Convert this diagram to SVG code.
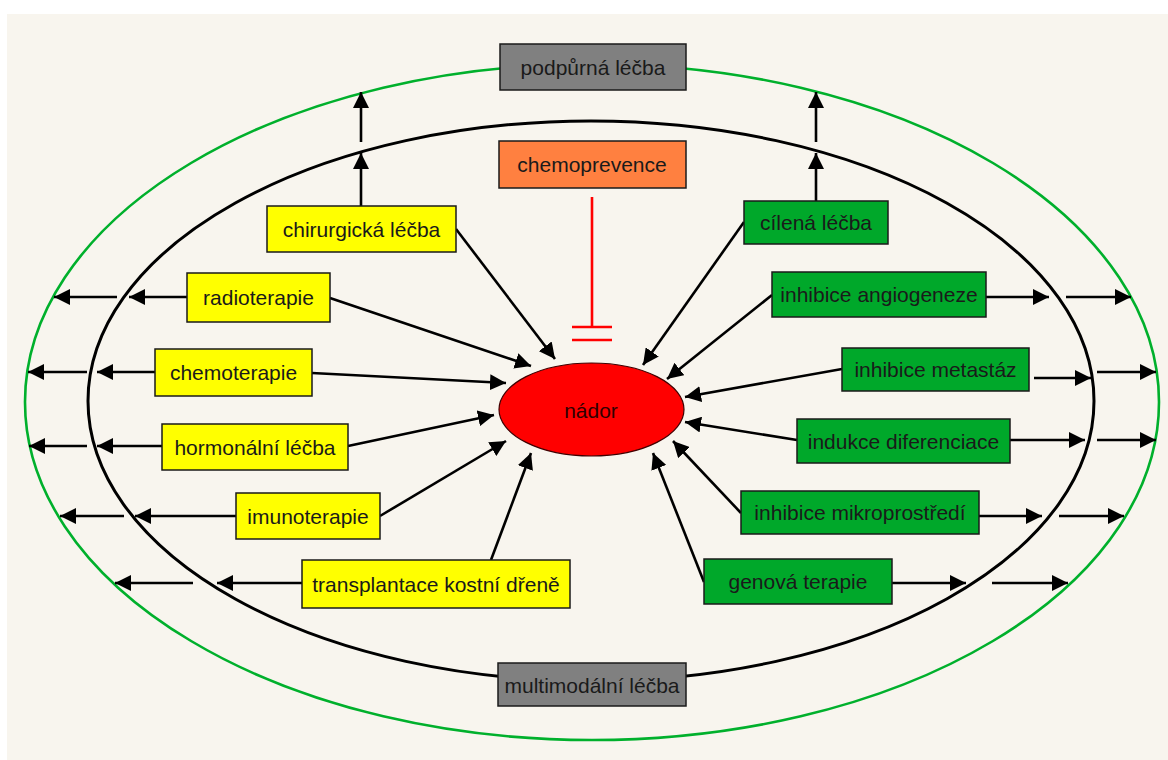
<svg xmlns="http://www.w3.org/2000/svg" width="1168" height="760" viewBox="0 0 1168 760">
<style>
.box{stroke:#1a1a1a;stroke-width:1.5}
.y{fill:#ffff00}
.g{fill:#00a82a}
.gr{fill:#808080}
.o{fill:#ff8040}
.t{font-family:"Liberation Sans",Arial,sans-serif;font-size:21px;fill:#1a1a1a;text-anchor:middle;dominant-baseline:central}
.c{stroke:#000;stroke-width:2.6;fill:none;marker-end:url(#ah)}
</style>
<defs>
<marker id="ah" markerUnits="userSpaceOnUse" markerWidth="17" markerHeight="16" refX="16" refY="8" orient="auto">
<path d="M0,0 L16,8 L0,16 z" fill="#000"/>
</marker>
</defs>
<rect x="0" y="0" width="1168" height="760" fill="#ffffff"/>
<rect x="7" y="14" width="1161" height="746" fill="#f8f5ee"/>
<g id="outer-ellipse"><ellipse cx="592" cy="402" rx="567" ry="338" fill="none" stroke="#00b02c" stroke-width="2.6"/></g>
<g id="inner-ellipse"><ellipse cx="591" cy="401" rx="503" ry="280" fill="none" stroke="#000" stroke-width="3"/></g>

<g id="connectors">
<!-- inbound left -->
<line class="c" x1="456" y1="229" x2="555" y2="359"/>
<line class="c" x1="330" y1="298" x2="531" y2="366"/>
<line class="c" x1="312" y1="373" x2="506" y2="383"/>
<line class="c" x1="348" y1="446" x2="494" y2="415"/>
<line class="c" x1="380" y1="516" x2="506" y2="441"/>
<line class="c" x1="491" y1="560" x2="531" y2="453"/>
<!-- inbound right -->
<line class="c" x1="744" y1="222" x2="643" y2="365"/>
<line class="c" x1="772" y1="295" x2="667" y2="379"/>
<line class="c" x1="842" y1="369" x2="685" y2="397"/>
<line class="c" x1="797" y1="440" x2="685" y2="422"/>
<line class="c" x1="741" y1="513" x2="673" y2="441"/>
<line class="c" x1="704" y1="582" x2="653" y2="453"/>
<!-- upward -->
<line class="c" x1="361" y1="206" x2="361" y2="153"/>
<line class="c" x1="361" y1="142" x2="361" y2="92"/>
<line class="c" x1="816" y1="201" x2="816" y2="153"/>
<line class="c" x1="816" y1="142" x2="816" y2="92"/>
<!-- outward left -->
<line class="c" x1="187" y1="297" x2="129" y2="297"/>
<line class="c" x1="117" y1="297" x2="54" y2="297"/>
<line class="c" x1="155" y1="372" x2="97" y2="372"/>
<line class="c" x1="87" y1="372" x2="28" y2="372"/>
<line class="c" x1="162" y1="446" x2="97" y2="446"/>
<line class="c" x1="87" y1="446" x2="29" y2="446"/>
<line class="c" x1="236" y1="516" x2="135" y2="516"/>
<line class="c" x1="124" y1="516" x2="60" y2="516"/>
<line class="c" x1="302" y1="583" x2="217" y2="583"/>
<line class="c" x1="193" y1="583" x2="115" y2="583"/>
<!-- outward right -->
<line class="c" x1="986" y1="297" x2="1049" y2="297"/>
<line class="c" x1="1066" y1="297" x2="1131" y2="297"/>
<line class="c" x1="1034" y1="378" x2="1091" y2="378"/>
<line class="c" x1="1097" y1="372" x2="1156" y2="372"/>
<line class="c" x1="1010" y1="440" x2="1085" y2="440"/>
<line class="c" x1="1097" y1="440" x2="1156" y2="440"/>
<line class="c" x1="979" y1="516" x2="1042" y2="516"/>
<line class="c" x1="1059" y1="516" x2="1124" y2="516"/>
<line class="c" x1="892" y1="583" x2="966" y2="583"/>
<line class="c" x1="992" y1="583" x2="1068" y2="583"/>
<!-- inhibition -->
<g stroke="#ff0000" stroke-width="2.6" fill="none">
<line x1="592" y1="197" x2="592" y2="327"/>
<line x1="572" y1="327" x2="612" y2="327"/>
<line x1="572" y1="340" x2="612" y2="340"/>
</g>
</g>

<g id="nador"><ellipse cx="591.5" cy="409.5" rx="92.5" ry="46.5" fill="#ff0000" stroke="#400000" stroke-width="1.2"/><text class="t" x="591" y="410" style="fill:#300000">nádor</text></g>

<g id="podpurna"><rect class="box gr" x="500" y="44" width="186" height="46"/><text class="t" x="593" y="67">podpůrná léčba</text></g>
<g id="chemoprevence"><rect class="box o" x="499" y="141" width="187" height="47"/><text class="t" x="592" y="164">chemoprevence</text></g>
<g id="multimodalni"><rect class="box gr" x="498" y="663" width="188" height="43"/><text class="t" x="592" y="685">multimodální léčba</text></g>

<g id="chirurgicka"><rect class="box y" x="267" y="206" width="189" height="46"/><text class="t" x="361.5" y="229">chirurgická léčba</text></g>
<g id="radioterapie"><rect class="box y" x="187" y="273" width="143" height="49"/><text class="t" x="258.5" y="297.5">radioterapie</text></g>
<g id="chemoterapie"><rect class="box y" x="155" y="349" width="157" height="47"/><text class="t" x="233.5" y="372.5">chemoterapie</text></g>
<g id="hormonalni"><rect class="box y" x="162" y="424" width="186" height="46"/><text class="t" x="255" y="447">hormonální léčba</text></g>
<g id="imunoterapie"><rect class="box y" x="236" y="493" width="144" height="46"/><text class="t" x="308" y="516">imunoterapie</text></g>
<g id="transplantace"><rect class="box y" x="302" y="560" width="268" height="48"/><text class="t" x="436" y="584">transplantace kostní dřeně</text></g>

<g id="cilena"><rect class="box g" x="744" y="201" width="144" height="43"/><text class="t" x="816" y="222.5">cílená léčba</text></g>
<g id="angiogeneze"><rect class="box g" x="772" y="272" width="214" height="45"/><text class="t" x="879" y="294.5">inhibice angiogeneze</text></g>
<g id="metastaz"><rect class="box g" x="842" y="348" width="187" height="43"/><text class="t" x="935.5" y="369.5">inhibice metastáz</text></g>
<g id="diferenciace"><rect class="box g" x="797" y="419" width="213" height="44"/><text class="t" x="903.5" y="441">indukce diferenciace</text></g>
<g id="mikroprostredi"><rect class="box g" x="741" y="491" width="238" height="43"/><text class="t" x="860" y="512.5">inhibice mikroprostředí</text></g>
<g id="genova"><rect class="box g" x="704" y="559" width="188" height="45"/><text class="t" x="798" y="581.5">genová terapie</text></g>
</svg>
